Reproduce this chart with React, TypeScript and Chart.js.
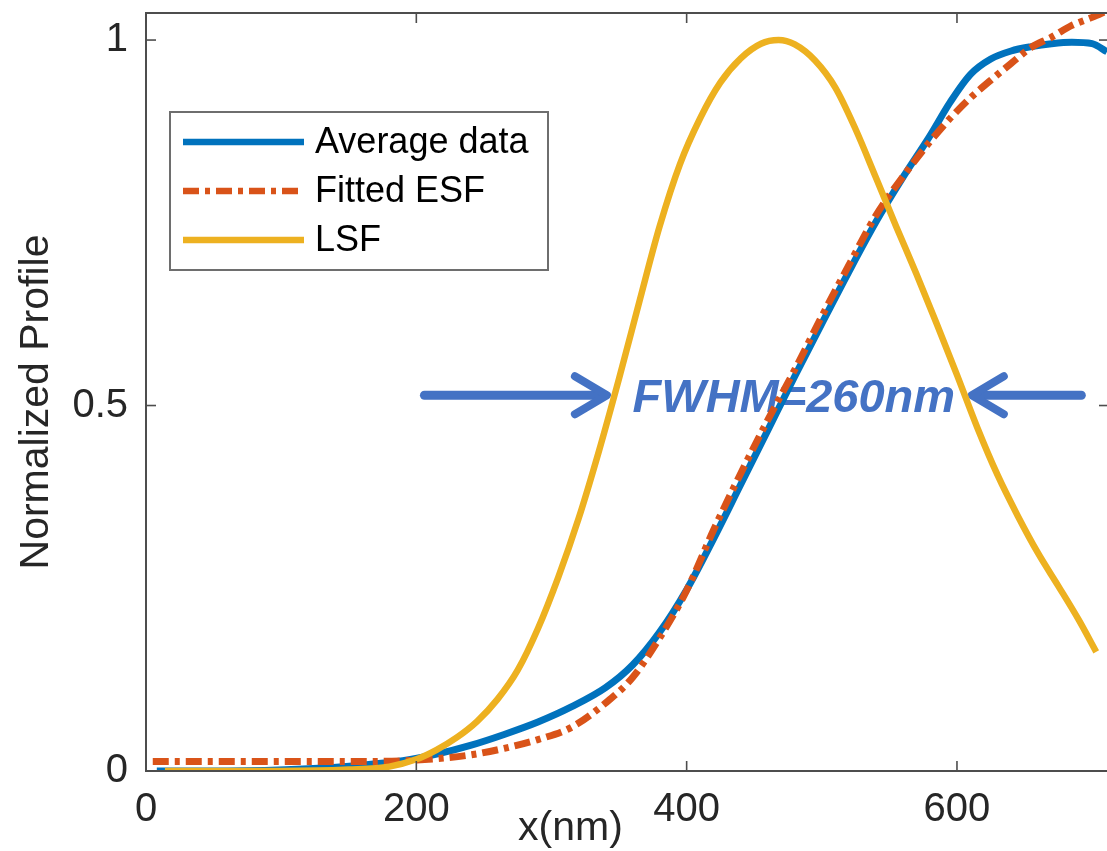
import React, { useEffect, useRef } from "react";
import { Chart, registerables } from "chart.js";

Chart.register(...registerables);

// ---- data ----
const AVG_X = [8, 60, 120, 160, 190, 215, 240, 265, 290, 315, 340, 360, 380, 400, 420, 440, 460, 480, 500, 520, 540, 560, 580, 595, 610, 625, 640, 655, 670, 685, 700, 711];
const AVG_Y = [0.0, 0.0, 0.003, 0.008, 0.014, 0.023, 0.035, 0.05, 0.067, 0.088, 0.114, 0.145, 0.19, 0.248, 0.318, 0.392, 0.466, 0.54, 0.612, 0.683, 0.751, 0.812, 0.869, 0.915, 0.953, 0.974, 0.985, 0.991, 0.995, 0.997, 0.995, 0.984];

const ESF_X = [5, 60, 120, 160, 190, 215, 240, 265, 290, 315, 340, 360, 380, 400, 420, 440, 460, 480, 500, 520, 540, 560, 580, 595, 610, 625, 640, 655, 670, 685, 700, 711];
const ESF_Y = [0.013, 0.013, 0.013, 0.013, 0.014, 0.017, 0.022, 0.031, 0.043, 0.06, 0.093, 0.128, 0.182, 0.247, 0.33, 0.407, 0.48, 0.549, 0.622, 0.692, 0.76, 0.813, 0.861, 0.893, 0.921, 0.945, 0.968, 0.99, 1.004, 1.02, 1.031, 1.04];

const LSF_X = [14, 100, 150, 180, 200, 215, 230, 245, 260, 275, 290, 305, 320, 335, 350, 365, 380, 395, 410, 425, 440, 455, 468, 480, 495, 510, 525, 540, 555, 570, 585, 600, 615, 630, 645, 660, 675, 690, 703];
const LSF_Y = [0.0, 0.0, 0.002, 0.006, 0.016, 0.029, 0.046, 0.068, 0.098, 0.138, 0.195, 0.265, 0.345, 0.437, 0.537, 0.642, 0.745, 0.83, 0.893, 0.942, 0.975, 0.995, 1.0, 0.994, 0.972, 0.935, 0.878, 0.812, 0.745, 0.68, 0.612, 0.542, 0.47, 0.405, 0.349, 0.298, 0.253, 0.207, 0.163];

const SERIES_LABELS = ["Average data", "Fitted ESF", "LSF"];
const SERIES_COLORS = ["#0072BD", "#D95319", "#EDB120"];

const X_TICKS = [0, 200, 400, 600];
const Y_TICKS = [0, 0.5, 1];
const Y_TICK_LABELS = ["0", "0.5", "1"];
const X_RANGE = [0, 711];
const Y_RANGE = [0, 1.037];

const X_TITLE = "x(nm)";
const Y_TITLE = "Normalized Profile";
const ANNOTATION_TEXT = "FWHM=260nm";
const ANNOTATION_LEVEL = 0.514;
const ANNOTATION_TEXT_X = 360;
const LEFT_ARROW = [206, 341];
const RIGHT_ARROW = [692, 611];

const FONT = "'Liberation Sans', Arial, Helvetica, sans-serif";
const AXIS_COLOR = "#262626";
const FRAME_COLOR = "#4d4d4d";
const NOTE_COLOR = "#4472C4";

const pts = (xs: number[], ys: number[]) => xs.map((x, i) => ({ x, y: ys[i] }));

const framePlugin = {
  id: "frameAndNotes",
  beforeDatasetsDraw(chart: any) {
    const { ctx, scales } = chart;
    const x = scales.x;
    const y = scales.y;
    const py = y.getPixelForValue(ANNOTATION_LEVEL);
    ctx.save();
    ctx.strokeStyle = NOTE_COLOR;
    ctx.fillStyle = NOTE_COLOR;
    ctx.lineCap = "round";
    ctx.lineJoin = "round";
    const arrow = (from: number, to: number) => {
      const x0 = x.getPixelForValue(from);
      const x1 = x.getPixelForValue(to);
      const dir = x1 > x0 ? 1 : -1;
      ctx.lineWidth = 9;
      ctx.beginPath();
      ctx.moveTo(x0, py);
      ctx.lineTo(x1 - dir * 4, py);
      ctx.stroke();
      ctx.lineWidth = 8;
      ctx.beginPath();
      ctx.moveTo(x1 - dir * 32, py - 19);
      ctx.lineTo(x1, py);
      ctx.lineTo(x1 - dir * 32, py + 19);
      ctx.stroke();
    };
    arrow(LEFT_ARROW[0], LEFT_ARROW[1]);
    arrow(RIGHT_ARROW[0], RIGHT_ARROW[1]);
    ctx.font = `italic bold 47px ${FONT}`;
    ctx.textAlign = "left";
    ctx.textBaseline = "alphabetic";
    ctx.fillText(ANNOTATION_TEXT, x.getPixelForValue(ANNOTATION_TEXT_X), py + 17);
    ctx.restore();
  },
  afterDatasetsDraw(chart: any) {
    const { ctx, chartArea: a, scales } = chart;
    const x = scales.x;
    const y = scales.y;
    ctx.save();
    ctx.strokeStyle = FRAME_COLOR;
    ctx.lineWidth = 2;
    ctx.beginPath();
    ctx.moveTo(a.right + 4, a.top);
    ctx.lineTo(a.left, a.top);
    ctx.lineTo(a.left, a.bottom);
    ctx.lineTo(a.right + 4, a.bottom);
    ctx.stroke();
    ctx.lineWidth = 1.6;
    const TL = 10;
    const seg = (x0: number, y0: number, x1: number, y1: number) => {
      ctx.beginPath();
      ctx.moveTo(x0, y0);
      ctx.lineTo(x1, y1);
      ctx.stroke();
    };
    X_TICKS.forEach((v) => {
      const p = x.getPixelForValue(v);
      seg(p, a.bottom, p, a.bottom - TL);
      seg(p, a.top, p, a.top + TL);
    });
    Y_TICKS.forEach((v) => {
      const p = y.getPixelForValue(v);
      seg(a.left, p, a.left + TL, p);
      seg(a.right + 2, p, a.right - TL + 2, p);
    });
    // axis titles
    ctx.fillStyle = AXIS_COLOR;
    ctx.font = `41px ${FONT}`;
    ctx.textAlign = "center";
    ctx.textBaseline = "alphabetic";
    ctx.fillText(X_TITLE, x.getPixelForValue(314), 840);
    ctx.save();
    ctx.translate(48, (a.top + a.bottom) / 2 + 10);
    ctx.rotate(-Math.PI / 2);
    ctx.fillText(Y_TITLE, 0, 0);
    ctx.restore();
    ctx.restore();
  },
  afterDraw(chart: any) {
    const { ctx, chartArea: a } = chart;
    const bx = a.left + 24;
    const by = a.top + 99;
    const bw = 378;
    const bh = 158;
    ctx.save();
    ctx.fillStyle = "#ffffff";
    ctx.fillRect(bx, by, bw, bh);
    ctx.strokeStyle = "#6e6e6e";
    ctx.lineWidth = 2;
    ctx.strokeRect(bx, by, bw, bh);
    ctx.font = `36px ${FONT}`;
    ctx.textAlign = "left";
    ctx.textBaseline = "middle";
    chart.data.datasets.forEach((ds: any, i: number) => {
      const ly = by + 30 + i * 49;
      ctx.strokeStyle = ds.borderColor;
      ctx.lineWidth = 6.5;
      ctx.lineCap = "butt";
      ctx.setLineDash(ds.borderDash || []);
      ctx.beginPath();
      ctx.moveTo(bx + 13, ly);
      ctx.lineTo(bx + 134, ly);
      ctx.stroke();
      ctx.setLineDash([]);
      ctx.fillStyle = "#000000";
      ctx.fillText(ds.label, bx + 145, ly + 1);
    });
    ctx.restore();
  },
};

export default function App() {
  const ref = useRef<HTMLCanvasElement | null>(null);
  useEffect(() => {
    document.body.style.margin = "0";
    const canvas = ref.current;
    if (!canvas) return;
    const chart = new Chart(canvas, {
      type: "line",
      data: {
        datasets: [
          {
            label: SERIES_LABELS[0],
            data: pts(AVG_X, AVG_Y),
            borderColor: SERIES_COLORS[0],
            borderWidth: 7,
            pointRadius: 0,
            cubicInterpolationMode: "monotone",
            order: 3,
          },
          {
            label: SERIES_LABELS[1],
            data: pts(ESF_X, ESF_Y),
            borderColor: SERIES_COLORS[1],
            borderWidth: 7,
            borderDash: [16, 6, 5, 6],
            pointRadius: 0,
            cubicInterpolationMode: "monotone",
            order: 2,
          },
          {
            label: SERIES_LABELS[2],
            data: pts(LSF_X, LSF_Y),
            borderColor: SERIES_COLORS[2],
            borderWidth: 6.5,
            pointRadius: 0,
            cubicInterpolationMode: "monotone",
            order: 1,
          },
        ],
      } as any,
      options: {
        responsive: false,
        animation: false,
        devicePixelRatio: 1,
        layout: { padding: { top: 13, right: 0, left: 0, bottom: 0 } },
        plugins: { legend: { display: false }, tooltip: { enabled: false } },
        scales: {
          x: {
            type: "linear",
            min: X_RANGE[0],
            max: X_RANGE[1],
            grid: { display: false, drawTicks: false },
            border: { display: false },
            afterBuildTicks: (s: any) => {
              s.ticks = X_TICKS.map((v) => ({ value: v }));
            },
            afterFit: (s: any) => {
              s.height = 80;
              s.paddingLeft = 0;
              s.paddingRight = 0;
              s.paddingTop = 0;
              s.paddingBottom = 0;
            },
            ticks: {
              color: AXIS_COLOR,
              padding: 15,
              font: { family: FONT, size: 40 },
              maxRotation: 0,
              autoSkip: false,
              callback: (v: any) => String(v),
            },
          },
          y: {
            type: "linear",
            min: Y_RANGE[0],
            max: Y_RANGE[1],
            grid: { display: false, drawTicks: false },
            border: { display: false },
            afterBuildTicks: (s: any) => {
              s.ticks = Y_TICKS.map((v) => ({ value: v }));
            },
            afterFit: (s: any) => {
              s.width = 146;
              s.paddingLeft = 0;
              s.paddingRight = 0;
              s.paddingTop = 0;
              s.paddingBottom = 0;
            },
            ticks: {
              color: AXIS_COLOR,
              padding: 18,
              font: { family: FONT, size: 40 },
              autoSkip: false,
              callback: (v: any) => {
                const i = Y_TICKS.indexOf(Number(v));
                return i >= 0 ? Y_TICK_LABELS[i] : "";
              },
            },
          },
        },
      } as any,
      plugins: [framePlugin],
    });
    return () => chart.destroy();
  }, []);
  return (
    <div style={{ width: 1107, height: 851 }}>
      <canvas ref={ref} width={1107} height={851} />
    </div>
  );
}
